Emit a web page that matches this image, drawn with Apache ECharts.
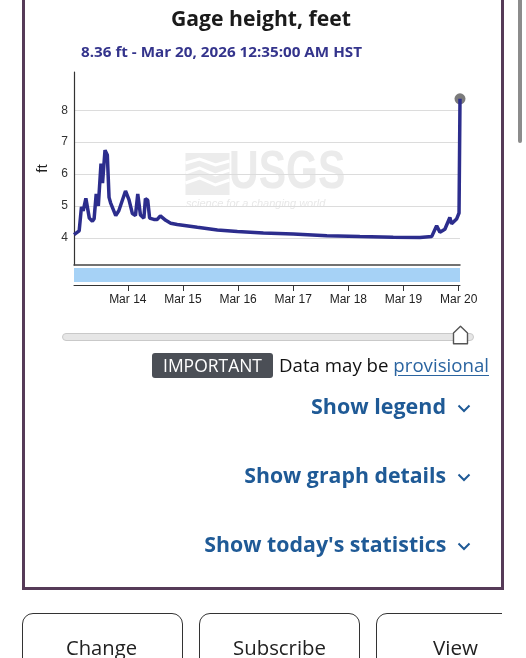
<!DOCTYPE html>
<html><head><meta charset="utf-8">
<script src="https://cdn.jsdelivr.net/npm/echarts@6/dist/echarts.min.js"></script>
<style>
html,body{margin:0;padding:0;width:526px;height:658px;overflow:hidden;background:#fff;font-family:'Open Sans',sans-serif;}
#frame{position:absolute;left:22px;top:-10px;width:482px;height:600px;box-sizing:border-box;border:3.5px solid #563b58;}
#chart{position:absolute;left:0;top:0;width:526px;height:658px;z-index:2;}
.t{position:absolute;white-space:nowrap;line-height:1;z-index:3;}
#scroll{position:absolute;left:518px;top:-4px;width:3.5px;height:147px;background:#8c8c8c;border-radius:2px;}
.link{color:#1f5a96;font-weight:700;}
.chev{position:absolute;z-index:3;}
#track{position:absolute;left:62px;top:333px;width:410px;height:6px;border-radius:4px;background:#e6e6e6;border:1px solid #c9c9c9;z-index:3;}
#handle{position:absolute;left:452px;top:325px;z-index:4;}
#badge{position:absolute;left:152px;top:353px;width:121px;height:25px;background:#4b4f56;border-radius:3px;z-index:3;}
#btns{position:absolute;left:0;top:600px;width:502px;height:70px;overflow:hidden;z-index:3;}
.btn{position:absolute;top:13px;width:158px;height:80px;border:1.5px solid #333;border-radius:11px;box-sizing:border-box;}
</style></head>
<body>
<div id="frame"></div>
<div id="scroll"></div>
<div class="t fit" data-w="180" data-o="left" style="left:171px;top:8px;font-size:21px;font-weight:700;color:#1b1b1b;">Gage height, feet</div>
<div class="t fit" data-w="281" data-o="left" style="left:81px;top:44px;font-size:15px;font-weight:700;color:#34348c;">8.36 ft - Mar 20, 2026 12:35:00 AM HST</div>
<div id="chart"></div>
<div id="track"></div>
<svg id="handle" width="17" height="20" viewBox="0 0 17 20"><polygon points="1.5,8 8.5,1.2 15.5,8 15.5,18.8 1.5,18.8" fill="#fff" stroke="#555" stroke-width="1.4" stroke-linejoin="round"/></svg>
<div id="badge"></div>
<div class="t fit" data-w="99" data-o="left" style="left:163px;top:356px;font-size:18px;color:#fff;">IMPORTANT</div>
<div class="t fit" data-w="210" data-o="left" style="left:279px;top:356px;font-size:18px;color:#111;">Data may be <span style="color:#2a64a0;text-decoration:underline;text-underline-offset:3px;">provisional</span></div>
<div class="t fit link" data-w="135" data-o="right" style="right:80px;top:396px;font-size:21px;">Show legend</div>
<div class="t fit link" data-w="202" data-o="right" style="right:80px;top:465px;font-size:21px;">Show graph details</div>
<div class="t fit link" data-w="242" data-o="right" style="right:80px;top:534px;font-size:21px;">Show today's statistics</div>
<svg class="chev" style="left:457px;top:404px" width="14" height="9"><polyline points="1.5,1.5 7,7 12.5,1.5" fill="none" stroke="#1f5a96" stroke-width="2"/></svg>
<svg class="chev" style="left:457px;top:473px" width="14" height="9"><polyline points="1.5,1.5 7,7 12.5,1.5" fill="none" stroke="#1f5a96" stroke-width="2"/></svg>
<svg class="chev" style="left:457px;top:542px" width="14" height="9"><polyline points="1.5,1.5 7,7 12.5,1.5" fill="none" stroke="#1f5a96" stroke-width="2"/></svg>
<div id="btns">
  <div class="btn" style="left:22px;width:161px;"></div>
  <div class="btn" style="left:199px;width:161px;"></div>
  <div class="btn" style="left:376px;width:161px;"></div>
</div>
<div class="t fit" data-w="71" data-o="left" style="left:66px;top:638px;font-size:20px;color:#222;">Change</div>
<div class="t fit" data-w="93" data-o="left" style="left:233px;top:638px;font-size:20px;color:#222;">Subscribe</div>
<div class="t fit" data-w="45" data-o="left" style="left:433px;top:638px;font-size:20px;color:#222;">View</div>
<script>
// ---- data ----
const times = [
 '2026-03-13 00:35','2026-03-13 01:25','2026-03-13 02:50','2026-03-13 03:50','2026-03-13 04:35',
 '2026-03-13 05:45','2026-03-13 06:30','2026-03-13 07:15','2026-03-13 08:35','2026-03-13 09:20',
 '2026-03-13 10:15','2026-03-13 11:10','2026-03-13 12:20','2026-03-13 13:00','2026-03-13 14:05',
 '2026-03-13 15:05','2026-03-13 15:50','2026-03-13 16:30','2026-03-13 18:45','2026-03-13 20:05',
 '2026-03-13 23:00','2026-03-14 00:30','2026-03-14 02:00','2026-03-14 03:20','2026-03-14 04:20',
 '2026-03-14 05:30','2026-03-14 07:00','2026-03-14 07:40','2026-03-14 08:40','2026-03-14 09:30',
 '2026-03-14 11:20','2026-03-14 12:50','2026-03-14 14:10','2026-03-14 16:30','2026-03-14 18:40',
 '2026-03-14 21:30','2026-03-15 06:15','2026-03-15 15:00','2026-03-15 23:40','2026-03-16 11:00',
 '2026-03-17 00:00','2026-03-17 14:40','2026-03-18 05:00','2026-03-18 19:30','2026-03-19 07:10',
 '2026-03-19 12:15','2026-03-19 14:25','2026-03-19 15:50','2026-03-19 18:00','2026-03-19 20:10',
 '2026-03-19 20:55','2026-03-19 23:05','2026-03-20 00:10','2026-03-20 00:35'
];
const gageFt = [
 4.10,4.13,4.22,4.97,4.85,
 5.24,5.25,4.62,4.52,4.60,
 5.38,5.00,6.33,5.72,6.75,
 6.60,5.27,5.10,4.70,4.85,
 5.47,5.20,4.76,4.70,5.38,
 4.72,4.62,5.23,5.18,4.62,
 4.58,4.58,4.69,4.55,4.46,
 4.42,4.33,4.25,4.20,4.15,
 4.12,4.07,4.04,4.02,4.01,
 4.04,4.38,4.18,4.27,4.64,
 4.44,4.59,4.78,8.36
];
const yTicks = [4,5,6,7,8];
const dayTicks = ['2026-03-14','2026-03-15','2026-03-16','2026-03-17','2026-03-18','2026-03-19','2026-03-20'];
const xStart = '2026-03-13 00:35', xEnd = '2026-03-20 00:35';
const yMin = 3.15, yMax = 9.2;
const months = ['Jan','Feb','Mar','Apr','May','Jun','Jul','Aug','Sep','Oct','Nov','Dec'];

function ts(s){ return new Date(s.length===10 ? s+'T00:00:00' : s.replace(' ','T')+':00').getTime(); }
const seriesData = times.map((t,i)=>[ts(t), gageFt[i]]);
const last = seriesData[seriesData.length-1];
const dayTs = dayTicks.map(ts);

function fit(){
  document.querySelectorAll('.fit').forEach(el=>{
    el.style.transform='none';
    const w = el.getBoundingClientRect().width;
    const target = +el.dataset.w;
    el.style.transformOrigin = el.dataset.o==='right' ? 'right top' : 'left top';
    el.style.transform = 'scaleX('+(target/w)+')';
  });
}
fit();
if (document.fonts && document.fonts.ready) document.fonts.ready.then(fit);

const chart = echarts.init(document.getElementById('chart'), null, {renderer:'canvas'});
chart.setOption({
  animation:false,
  grid:[
    {left:74, top:72, width:386, height:193},
    {left:74, top:268, width:386, height:14, show:true, backgroundColor:'#a6d2f6', borderWidth:0}
  ],
  xAxis:[
    {type:'value', gridIndex:0, min:ts(xStart), max:ts(xEnd),
     axisLine:{show:true, onZero:false, lineStyle:{color:'#444', width:1.5}},
     axisTick:{show:false}, axisLabel:{show:false}, splitLine:{show:false}},
    {type:'value', gridIndex:1, min:ts(xStart), max:ts(xEnd), position:'bottom', offset:3,
     axisLine:{show:true, onZero:false, lineStyle:{color:'#333', width:1}},
     axisTick:{show:true, customValues:dayTs, length:6, lineStyle:{color:'#333'}},
     axisLabel:{show:true, customValues:dayTs, margin:9, color:'#222', fontSize:12, fontFamily:'Liberation Sans',
       showMinLabel:true, showMaxLabel:true,
       formatter:v=>{const d=new Date(v); return months[d.getMonth()]+' '+d.getDate();}},
     splitLine:{show:false}}
  ],
  yAxis:[
    {type:'value', gridIndex:0, min:yMin, max:yMax,
     axisLine:{show:true, lineStyle:{color:'#333', width:1.2}},
     axisTick:{show:false, customValues:yTicks},
     axisLabel:{customValues:yTicks, color:'#333', fontSize:12, margin:6, fontFamily:'Liberation Sans'},
     splitLine:{show:true, lineStyle:{color:'#dcdcdc', width:1}},
     name:'ft', nameLocation:'middle', nameRotate:90, nameGap:24,
     nameTextStyle:{fontSize:15, color:'#222', fontFamily:'Liberation Sans'}},
    {type:'value', gridIndex:1, show:false, min:0, max:1}
  ],
  graphic:[
    {type:'group', left:183, top:153, silent:true, z:0, children:[
      {type:'rect', shape:{x:0,y:0,width:44,height:42}, style:{fill:'#ececec'}},
      {type:'polyline', shape:{points:[[0,10],[14,6],[30,12],[44,8]]}, style:{stroke:'#fff', lineWidth:3, fill:null}},
      {type:'polyline', shape:{points:[[0,20],[14,15],[30,22],[44,17]]}, style:{stroke:'#fff', lineWidth:3, fill:null}},
      {type:'polyline', shape:{points:[[0,30],[14,25],[30,32],[44,27]]}, style:{stroke:'#fff', lineWidth:3, fill:null}}
    ]},
    {type:'text', x:229, y:146, scaleX:0.76, silent:true, z:0, style:{text:'USGS', fill:'#ebebeb', font:'bold 54px "Liberation Sans", sans-serif'}},
    {type:'text', x:186, y:198, silent:true, z:0, style:{text:'science for a changing world', fill:'#e8e8e8', font:'italic 11px "Liberation Sans", sans-serif'}}
  ],
  series:[
    {type:'scatter', xAxisIndex:0, yAxisIndex:0, data:[last], symbolSize:11, itemStyle:{color:'#5a5a5a'}, z:2, silent:true},
    {type:'line', xAxisIndex:0, yAxisIndex:0, data:seriesData, showSymbol:false, symbol:'none',
     lineStyle:{color:'#2c2d8d', width:3.5}, itemStyle:{color:'#2c2d8d'}, z:3, silent:true}
  ]
});
</script>
</body></html>
